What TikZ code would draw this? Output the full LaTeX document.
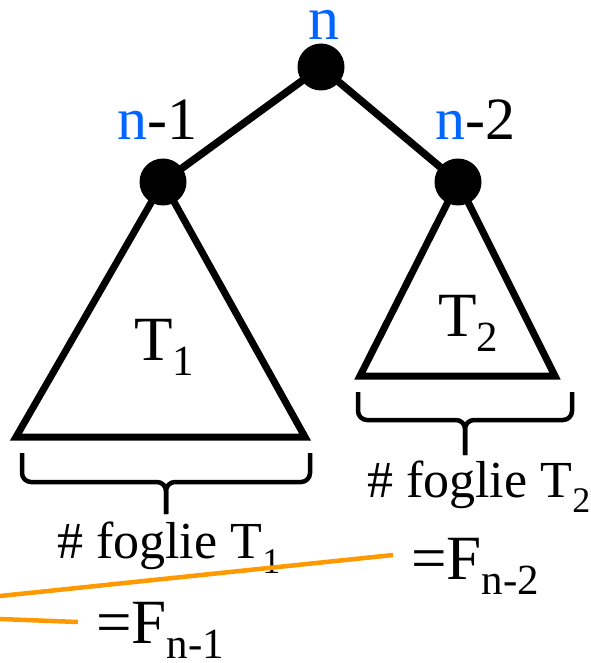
\documentclass[tikz,border=0pt]{standalone}
\usepackage{fontspec}
\setmainfont{Liberation Serif}
\definecolor{nblue}{RGB}{0,102,255}
\definecolor{lineorange}{RGB}{255,153,0}
\newcommand{\fs}[1]{\fontsize{#1}{#1}\selectfont}
\newcommand{\lowsub}[3]{\raisebox{-#3em}{\fs{#1}#2}}
\begin{document}
\begin{tikzpicture}[x=1pt,y=-1pt,
  dot/.style={circle,fill=black,inner sep=0pt,minimum size=47pt},
  edge/.style={line width=7.5pt},
  tri/.style={line width=7pt,line join=miter},
  bracepath/.style={line width=4.5pt,rounded corners=9pt},
  lbl/.style={inner sep=0pt,anchor=base west,font=\fs{60}},
  txt/.style={inner sep=0pt,anchor=base west},
  orangeline/.style={draw=lineorange,line width=4.5pt}]
\useasboundingbox (0,0) rectangle (590,663);
% positions
\coordinate (rc) at (321,67);
\coordinate (ac) at (163,182);
\coordinate (bc) at (458,182);
\coordinate (a1) at (16,437);
\coordinate (a2) at (305,437);
\coordinate (b1) at (360,376);
\coordinate (b2) at (555,376);
% triangles and edges
\draw[tri] (ac) -- (a1) -- (a2) -- cycle;
\draw[tri] (bc) -- (b1) -- (b2) -- cycle;
\draw[edge] (rc) -- (ac);
\draw[edge] (rc) -- (bc);
% nodes
\node[dot] (r) at (rc) {};
\node[dot] (a) at (ac) {};
\node[dot] (b) at (bc) {};
% labels
\node[lbl,anchor=base,text=nblue,font=\fs{62},text height=0.5em] (ln) at (324,40) {n};
\node[lbl] (la) at (117,140) {\textcolor{nblue}{n}-1};
\node[lbl] (lb) at (435,140) {\textcolor{nblue}{n}-2};
\node[txt,font=\fs{63}] (t1) at (134,360) {T\lowsub{43}{1}{0.25}};
\node[txt,font=\fs{63}] (t2) at (438,336) {T\lowsub{43}{2}{0.25}};
% braces
\coordinate (l1) at (22,453);
\coordinate (l2) at (310,453);
\coordinate (lm) at (166,482);
\coordinate (lt) at (166,514);
\draw[bracepath] (l1) -- (l1 |- lm) -- (lm) -- (lt);
\draw[bracepath] (l2) -- (l2 |- lm) -- (lm) -- (lt);
\coordinate (r1) at (358,392);
\coordinate (r2) at (572,392);
\coordinate (rm) at (465,420);
\coordinate (rt) at (465,455);
\draw[bracepath] (r1) -- (r1 |- rm) -- (rm) -- (rt);
\draw[bracepath] (r2) -- (r2 |- rm) -- (rm) -- (rt);
% leaf texts
\node[txt,font=\fs{52}] (f1) at (57,558) {\# foglie T\lowsub{36}{1}{0.29}};
\node[txt,font=\fs{52}] (f2) at (367,497) {\# foglie T\lowsub{36}{2}{0.29}};
\node[txt,font=\fs{63}] (e2) at (411,579) {=F\lowsub{43}{n-2}{0.24}};
\node[txt,font=\fs{63}] (e1) at (96,643) {=F\lowsub{43}{n-1}{0.24}};
% orange lines
\coordinate (o1) at (0,596);
\coordinate (o2) at (393,555);
\coordinate (o3) at (0,619);
\coordinate (o4) at (78,622);
\draw[orangeline] (o1) -- (o2);
\draw[orangeline] (o3) -- (o4);
\end{tikzpicture}
\end{document}
